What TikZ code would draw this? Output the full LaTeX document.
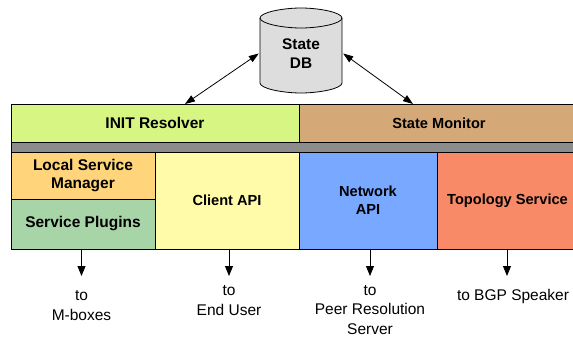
\documentclass[tikz,border=0pt]{standalone}
\usepackage{fontspec}
\setmainfont{Liberation Sans}
\usetikzlibrary{arrows.meta}
\definecolor{initgreen}{HTML}{D6F582}
\definecolor{montan}{HTML}{D5A878}
\definecolor{bandgray}{HTML}{8C8C8C}
\definecolor{lsmorange}{HTML}{FFD47A}
\definecolor{plugingreen}{HTML}{A8D5A8}
\definecolor{clientyellow}{HTML}{FFFBA8}
\definecolor{netblue}{HTML}{78A8FF}
\definecolor{toposalmon}{HTML}{F88A68}
\definecolor{dbgray}{HTML}{DDDDDD}
\begin{document}
\begin{tikzpicture}[x=1pt,y=-1pt,
  layer/.style={draw=black, line width=0.8pt, inner sep=0pt, outer sep=0pt,
    align=center, font=\fontsize{14.6}{18.3}\selectfont\bfseries},
  bigtext/.style={font=\fontsize{15.5}{18.3}\selectfont\bfseries},
  lbl/.style={align=center, inner sep=0pt, font=\fontsize{15.5}{19.3}\selectfont},
  dblarrow/.style={line width=0.8pt, {Triangle[length=10pt,width=7pt]}-{Triangle[length=10pt,width=7pt]}},
  downarrow/.style={line width=0.8pt, -{Triangle[length=10pt,width=8pt]}}]
\useasboundingbox (0,0) rectangle (573,337);

% state database cylinder
\filldraw[fill=dbgray, draw=black, line width=0.8pt]
  (260,18) -- (260,83)
  .. controls (260,88.52) and (282.64,93) .. (301,93)
  .. controls (319.36,93) and (342,88.52) .. (342,83)
  -- (342,18)
  .. controls (342,12.48) and (319.36,8) .. (301,8)
  .. controls (282.64,8) and (260,12.48) .. (260,18) -- cycle;
\draw[line width=0.8pt]
  (260,18) .. controls (260,23.52) and (282.64,28) .. (301,28)
  .. controls (319.36,28) and (342,23.52) .. (342,18);
\node[inner sep=0pt, minimum width=84pt, minimum height=20pt, align=center,
  font=\fontsize{15.4}{19}\selectfont\bfseries] (db) at (301,53.5) {State\\DB};

% layered architecture blocks
\begin{scope}
\clip (0,0) rectangle (573,337);
\node[layer, bigtext, fill=initgreen, minimum width=288pt, minimum height=38pt] (init) at (155,123) {INIT Resolver};
\node[layer, fill=montan, minimum width=280pt, minimum height=38pt] (monitor) at (439,123) {State Monitor};
\node[layer, fill=bandgray, minimum width=568pt, minimum height=10pt] (band) at (295,147) {};
\node[layer, bigtext, fill=lsmorange, minimum width=144pt, minimum height=47pt] (lsm) at (83,175.5) {Local Service\\Manager};
\node[layer, bigtext, fill=plugingreen, minimum width=144pt, minimum height=50pt] (plugins) at (83,224) {Service Plugins};
\node[layer, fill=clientyellow, minimum width=144pt, minimum height=97pt] (client) at (227,200.5) {Client API};
\node[layer, fill=netblue, minimum width=138pt, minimum height=97pt] (network) at (368,200.5) {Network\\API};
\node[layer, fill=toposalmon, minimum width=141pt, minimum height=97pt] (topo) at (507.5,200.5) {Topology Service};
\end{scope}

% links between the database and the resolver / monitor
\coordinate (initin) at (185,104);
\coordinate (monin) at (413,104);
\draw[dblarrow] (db.west) -- (initin);
\draw[dblarrow] (db.east) -- (monin);

% outgoing interfaces
\coordinate (t1) at (81.5,276);
\coordinate (t2) at (229,276);
\coordinate (t3) at (370,276);
\coordinate (t4) at (507,276);
\draw[downarrow] (plugins.south -| t1) -- (t1);
\draw[downarrow] (client.south -| t2) -- (t2);
\draw[downarrow] (network.south -| t3) -- (t3);
\draw[downarrow] (topo.south -| t4) -- (t4);

\node[lbl] (l1) at (81.5,305.5) {to\\M-boxes};
\node[lbl] (l2) at (229,300.5) {to\\End User};
\node[lbl] (l3) at (370,310) {to\\Peer Resolution\\Server};
\node[lbl] (l4) at (513,296) {to BGP Speaker};
\end{tikzpicture}
\end{document}
